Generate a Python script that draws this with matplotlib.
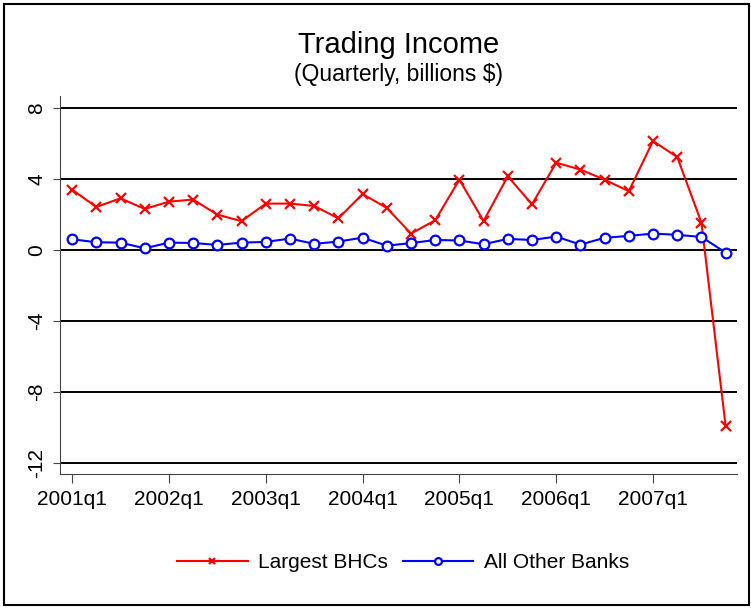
import matplotlib
matplotlib.use("Agg")
import matplotlib.pyplot as plt
from matplotlib.patches import Rectangle

plt.rcParams['font.family'] = ['Liberation Sans', 'DejaVu Sans']

# quarterly trading income, billions $, 2001q1 .. 2007q4
quarters = [f"{y}q{q}" for y in range(2001, 2008) for q in range(1, 5)]
largest_bhcs = [3.40, 2.42, 2.91, 2.31, 2.72, 2.84, 1.99, 1.62,
                2.61, 2.61, 2.48, 1.78, 3.15, 2.37, 0.92, 1.67,
                3.96, 1.63, 4.15, 2.57, 4.92, 4.53, 3.96, 3.31,
                6.14, 5.24, 1.54, -9.94]
other_banks = [0.60, 0.43, 0.41, 0.09, 0.41, 0.39, 0.28, 0.41,
               0.45, 0.64, 0.34, 0.47, 0.69, 0.24, 0.38, 0.56,
               0.53, 0.32, 0.62, 0.56, 0.75, 0.30, 0.68, 0.79,
               0.92, 0.85, 0.73, -0.15]
y_ticks = [8, 4, 0, -4, -8, -12]
x_tick_labels = ["2001q1", "2002q1", "2003q1", "2004q1", "2005q1", "2006q1", "2007q1"]

W, H = 751, 609
fig = plt.figure(figsize=(W / 100, H / 100), dpi=100)
ax = fig.add_axes([60 / W, 1 - 474 / H, (737 - 60) / W, (474 - 96) / H])

x = list(range(len(quarters)))
ax.plot(x, largest_bhcs, color='red', lw=1.5, marker='x', ms=6.5, mew=1.6,
        label='Largest BHCs', zorder=3)
ax.plot(x, other_banks, color='blue', lw=1.5, marker='o', ms=7, mew=1.6,
        mfc='white', label='All Other Banks', zorder=3)

for yv in y_ticks:
    ax.axhline(yv, color='black', lw=1.4, zorder=1)

ax.set_ylim(-12.64, 8.68)
ax.set_xlim(-0.5, 27.47)
ax.set_yticks(y_ticks)
ax.set_yticklabels([str(v) for v in y_ticks], rotation=90, va='center')
ax.set_xticks([quarters.index(t) for t in x_tick_labels])
ax.set_xticklabels(x_tick_labels)
ax.tick_params(axis='y', length=5, width=0.8, color='#444444', labelsize=15, pad=5)
ax.tick_params(axis='x', length=6.5, width=0.8, color='#444444', labelsize=15, pad=5)

for s in ['top', 'right']:
    ax.spines[s].set_visible(False)
for s in ['left', 'bottom']:
    ax.spines[s].set_color('#444444')
    ax.spines[s].set_linewidth(0.8)

fig.text(398.5 / W, 1 - 45 / H, "Trading Income", ha='center', va='center', fontsize=21)
fig.text(398.5 / W, 1 - 75 / H, "(Quarterly, billions $)", ha='center', va='center', fontsize=16.5)

fig.legend(loc='center', bbox_to_anchor=(403 / W, 1 - 563 / H), ncol=2, frameon=False,
           fontsize=15, handlelength=3.4, handletextpad=0.5, columnspacing=0.7,
           markerscale=0.7)

fig.patches.append(Rectangle((4 / W, 4 / H), (749 - 4) / W, (605 - 4) / H,
                             transform=fig.transFigure, fill=False,
                             edgecolor='black', lw=1.5))

plt.savefig("out.png", dpi=100)
